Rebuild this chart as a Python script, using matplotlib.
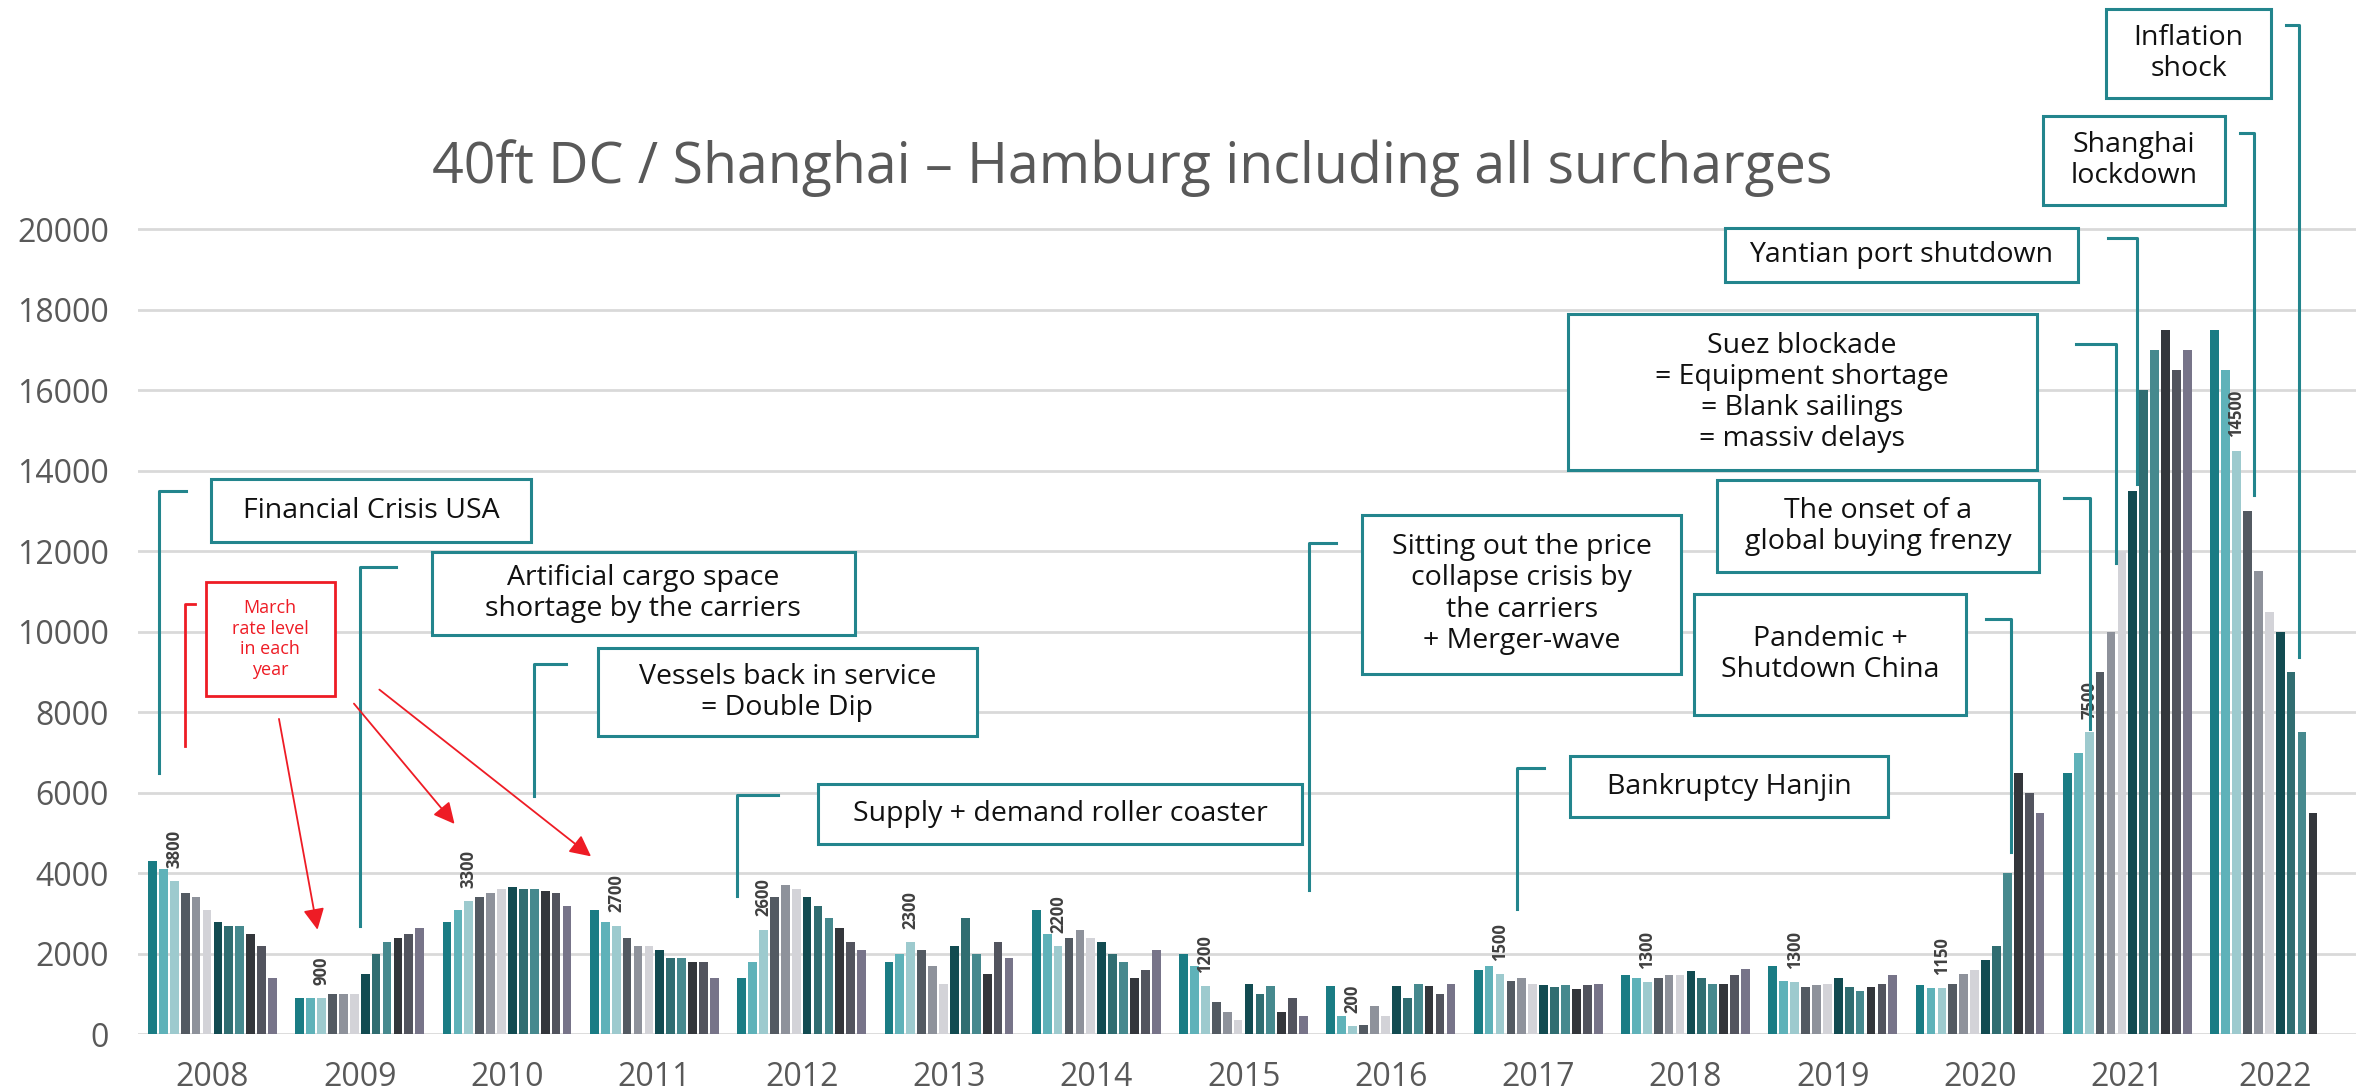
import numpy as np
import matplotlib.pyplot as plt
from matplotlib.patches import Rectangle

# March values are the labelled bars; 2022 only runs to October
years = list(range(2008, 2023))
rates_2008 = [4300, 4100, 3800, 3500, 3400, 3100, 2800, 2700, 2700, 2500, 2200, 1400]
rates_2009 = [900, 900, 900, 1000, 1000, 1000, 1500, 2000, 2300, 2400, 2500, 2650]
rates_2010 = [2800, 3100, 3300, 3400, 3500, 3600, 3650, 3600, 3600, 3550, 3500, 3200]
rates_2011 = [3100, 2800, 2700, 2400, 2200, 2200, 2100, 1900, 1900, 1800, 1800, 1400]
rates_2012 = [1400, 1800, 2600, 3400, 3700, 3600, 3400, 3200, 2900, 2650, 2300, 2100]
rates_2013 = [1800, 2000, 2300, 2100, 1700, 1250, 2200, 2900, 2000, 1500, 2300, 1900]
rates_2014 = [3100, 2500, 2200, 2400, 2600, 2400, 2300, 2000, 1800, 1400, 1600, 2100]
rates_2015 = [2000, 1700, 1200, 800, 550, 350, 1250, 1000, 1200, 550, 900, 450]
rates_2016 = [1200, 450, 200, 230, 700, 450, 1200, 900, 1250, 1200, 1000, 1250]
rates_2017 = [1600, 1700, 1500, 1320, 1400, 1260, 1230, 1170, 1230, 1130, 1230, 1260]
rates_2018 = [1480, 1390, 1300, 1390, 1480, 1480, 1580, 1390, 1260, 1260, 1480, 1620]
rates_2019 = [1700, 1330, 1300, 1170, 1230, 1260, 1390, 1170, 1070, 1170, 1260, 1480]
rates_2020 = [1230, 1160, 1150, 1250, 1500, 1600, 1850, 2200, 4000, 6500, 6000, 5500]
rates_2021 = [6500, 7000, 7500, 9000, 10000, 12000, 13500, 16000, 17000, 17500, 16500, 17000]
rates_2022 = [17500, 16500, 14500, 13000, 11500, 10500, 10000, 9000, 7500, 5500]
rates = [rates_2008, rates_2009, rates_2010, rates_2011, rates_2012, rates_2013, rates_2014,
         rates_2015, rates_2016, rates_2017, rates_2018, rates_2019, rates_2020, rates_2021,
         rates_2022]

month_colors = ['#1a7c84', '#5fb2b9', '#9dcace', '#535a62', '#8e929b', '#d3d3d8',
                '#124b51', '#306d71', '#46898e', '#33363b', '#52545e', '#777489']

teal = '#23858d'
red = '#ee1c25'

plt.rcParams['font.family'] = ['Open Sans', 'DejaVu Sans']

fig = plt.figure(figsize=(23.69, 10.91), dpi=100)
ax = fig.add_axes([138 / 2369, 56.7 / 1091, (2356 - 138) / 2369, 1034.3 / 1091])

step = 13.5
for i, vals in enumerate(rates):
    x = i * step + np.arange(len(vals))
    ax.bar(x, vals, width=0.8, color=month_colors[:len(vals)], zorder=3)
    ax.annotate(str(vals[2]), (x[2], vals[2]), xytext=(0, 9.5), textcoords='offset points',
                rotation=90, ha='center', va='bottom', fontsize=12, fontweight='bold',
                color='#404040', zorder=4)

ax.set_xlim(-1.32, 201.95)
ax.set_ylim(0, 1034.3 * 24.845)
ax.set_yticks(range(0, 20001, 2000))
ax.set_xticks([i * step + 5.5 for i in range(len(years))])
ax.set_xticklabels([str(y) for y in years])
ax.tick_params(length=0, labelsize=23, labelcolor='#595959')
ax.tick_params(axis='y', pad=21)
ax.tick_params(axis='x', pad=19)
ax.yaxis.grid(True, color='#d9d9d9', lw=2)
ax.set_axisbelow(True)
for s in ax.spines.values():
    s.set_visible(False)

fig.text(1132 / 2369, 1 - 183 / 1091, '40ft DC / Shanghai \u2013 Hamburg including all surcharges',
         ha='center', va='baseline', fontsize=40, color='#595959')

# event boxes: text, box x0, x1, y0, y1, leader (x end of tick, x of vertical, top, bottom)
events = [
    ('Financial Crisis USA', 5.4, 34.7, 12240, 13786, (3.1, 0.65, 13494, 6500)),
    ('Artificial cargo space\nshortage by the carriers', 25.6, 64.4, 9932, 11978,
     (22.3, 19.07, 11614, 2680)),
    ('Vessels back in service\n= Double Dip', 40.8, 75.6, 7403, 9601, (37.9, 35.0, 9193, 5912)),
    ('Supply + demand roller coaster', 61.0, 105.4, 4728, 6228, (57.3, 53.6, 5954, 3443)),
    ('Sitting out the price\ncollapse crisis by\nthe carriers\n+ Merger-wave', 110.9, 140.1,
     8964, 12914, (108.5, 106.0, 12194, 3592)),
    ('Bankruptcy Hanjin', 129.9, 159.1, 5390, 6906, (127.5, 125.1, 6617, 3112)),
    ('Pandemic +\nShutdown China', 141.3, 166.2, 7943, 10943, (168.0, 170.35, 10330, 4517)),
    ('The onset of a\nglobal buying frenzy', 143.4, 172.9, 11480, 13772,
     (175.2, 177.6, 13333, 7595)),
    ('Suez blockade\n= Equipment shortage\n= Blank sailings\n= massiv delays', 129.7, 172.7,
     14016, 17888, (176.3, 179.95, 17161, 11721)),
    ('Yantian port shutdown', 144.1, 176.5, 18690, 20042, (179.2, 181.9, 19781, 13661)),
    ('Shanghai\nlockdown', 173.3, 189.9, 20604, 22817, (191.3, 192.6, 22404, 13405)),
    ('Inflation\nshock', 179.0, 194.2, 23270, 25474, (195.55, 196.7, 25076, 9365)),
]
for text, x0, x1, y0, y1, (xh, xv, yt, yb) in events:
    ax.add_patch(Rectangle((x0, y0), x1 - x0, y1 - y0, facecolor='white', edgecolor=teal,
                           lw=2.2, zorder=5, clip_on=False))
    ax.text((x0 + x1) / 2, (y0 + y1) / 2, text, ha='center', va='center', fontsize=20.5,
            color='#111111', linespacing=1.15, zorder=6)
    ax.plot([xh, xv, xv], [yt, yt, yb], color=teal, lw=2.2, zorder=5, clip_on=False)

# red note about the March labels
ax.add_patch(Rectangle((4.9, 8415), 11.8, 2817, facecolor='white', edgecolor=red, lw=2,
                       zorder=5))
ax.text(10.8, 9823, 'March\nrate level\nin each\nyear', ha='center', va='center',
        fontsize=13, color=red, linespacing=1.2, zorder=6)
ax.plot([3.9, 2.96, 2.96], [10702, 10702, 7155], color=red, lw=2, zorder=5)
for start, end in [((11.6, 7836), (15.13, 2598)), ((18.47, 8216), (27.69, 5226)),
                   ((20.8, 8564), (40.2, 4420))]:
    ax.annotate('', xy=end, xytext=start,
                arrowprops=dict(arrowstyle='-|>', color=red, lw=1.3, mutation_scale=32,
                                shrinkA=0, shrinkB=0), zorder=6)

fig.savefig('out.png', dpi=100)
